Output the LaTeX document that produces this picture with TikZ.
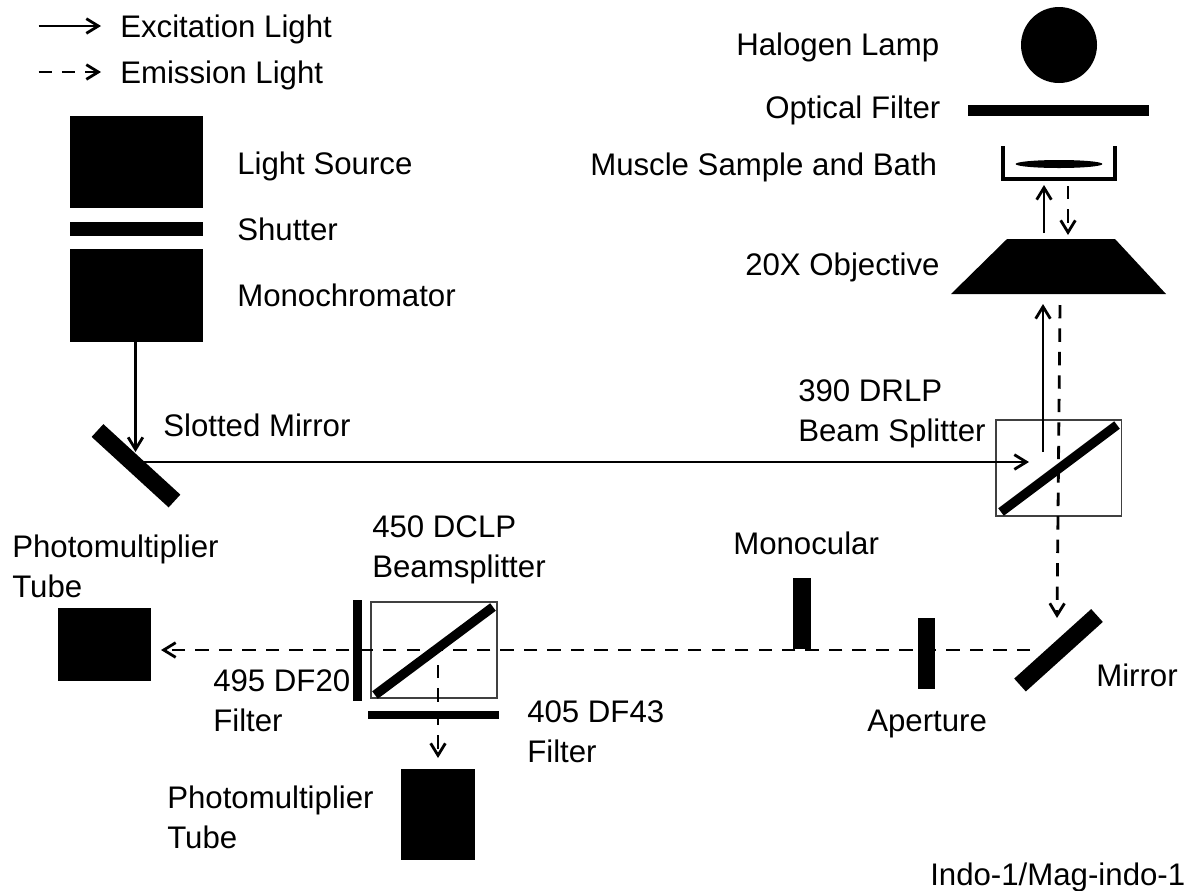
\documentclass[tikz,border=0pt]{standalone}
\usepackage{fontspec}
\setmainfont{Liberation Sans}
\usetikzlibrary{arrows.meta,shapes.geometric}

\begin{document}
\begin{tikzpicture}[
  x=0.75pt, y=-0.75pt,
  excite/.style={-{Straight Barb[length=9pt,width=11pt]}, line width=2.1pt},
  emit/.style={-{Straight Barb[length=9pt,width=11pt]}, line width=2.1pt,
               dash pattern=on 10pt off 7.6pt},
  block/.style={fill=black, inner sep=0pt, outer sep=0pt},
  cube/.style={draw=black!75, line width=1pt, inner sep=0pt, outer sep=0pt},
  plate/.style={line width=7pt},
  mirror/.style={line width=13pt},
  tag/.style={anchor=base west, inner sep=0pt, align=left,
              font=\fontsize{23.4}{30}\selectfont}]
\useasboundingbox (0,0) rectangle (1195,890);

% ---- black parts of the two light paths ---------------------------------
\node[block, minimum width=100pt, minimum height=69pt] (source) at (136.5,162) {};
\node[block, minimum width=100pt, minimum height=10.5pt] (shutter) at (136.5,229) {};
\node[block, minimum width=100pt, minimum height=70pt] (mono) at (136.5,295.5) {};
\node[block, circle, minimum size=57pt] (lamp) at (1059,45) {};
\node[block, minimum width=136pt, minimum height=8pt] (optfilter) at (1058.5,110.5) {};
\node[block, ellipse, minimum width=65pt, minimum height=6pt] (sample) at (1059,164) {};
\node[block, minimum width=13pt, minimum height=53pt] (aperture) at (926.5,653.5) {};
\node[block, minimum width=13.5pt, minimum height=53pt] (monocular) at (802,613.5) {};
\node[block, minimum width=70pt, minimum height=55pt] (pmtleft) at (104.5,644.5) {};
\node[block, minimum width=56pt, minimum height=68pt] (pmtlow) at (438,814.5) {};
\node[block, minimum width=7pt, minimum height=76pt] (dffilter) at (357.5,650.5) {};
\node[block, minimum width=98pt, minimum height=6.5pt] (dfforty) at (433.5,715) {};
\node[cube, minimum width=94pt, minimum height=72pt] (splitter) at (1058.5,468) {};
\node[cube, minimum width=94.5pt, minimum height=72pt] (dclp) at (434,650) {};

% ---- objective and bath -------------------------------------------------
\fill (1007,239)--(1115,239)--(1166,294)--(951,294)--cycle;
\draw[line width=2.5pt] (1003,146)--(1003,179)--(1115,179)--(1115,146);

% ---- ends of the tilted plates ------------------------------------------
\coordinate (slot1) at (97.5,430.5);
\coordinate (slot2) at (174.5,501);
\coordinate (fold1) at (1020,685);
\coordinate (fold2) at (1097,615.5);
\coordinate (split1) at (1001,512);
\coordinate (split2) at (1117,425);
\coordinate (dclp1) at (375,695);
\coordinate (dclp2) at (493,607);
\draw[mirror] (slot1)--(slot2) (fold1)--(fold2);
\draw[plate] (split1)--(split2) (dclp1)--(dclp2);

% ---- where the beams start and stop -------------------------------------
\coordinate (slotin) at (135.5,452);
\coordinate (slotout) at (136,462);
\coordinate (splitin) at (1029,462);
\coordinate (upstart) at (1043,452);
\coordinate (upend) at (1043,304);
\coordinate (bathup) at (1044,233);
\coordinate (bathtop) at (1044,185);
\coordinate (bathdown) at (1068,186);
\coordinate (objtop) at (1068,235);
\coordinate (downstart) at (1060,305);
\coordinate (foldin) at (1057,618);
\coordinate (foldout) at (1030,650);
\coordinate (pmtin) at (161,650);
\coordinate (lowstart) at (438,665);
\coordinate (lowend) at (438,758);

\draw[excite] (mono.south -| slotin)--(slotin);
\draw[excite] (slotout)--(splitin);
\draw[excite] (upstart)--(upend);
\draw[excite] (bathup)--(bathtop);
\draw[emit] (bathdown)--(objtop);
\draw[emit] (downstart)--(foldin);
\draw[emit] (foldout)--(pmtin);
\draw[emit] (lowstart)--(lowend);

% ---- legend -------------------------------------------------------------
\coordinate (keya) at (38.5,26);
\coordinate (keyb) at (101,26);
\coordinate (keyc) at (38.5,72);
\coordinate (keyd) at (101,72);
\draw[excite] (keya)--(keyb);
\draw[emit] (keyc)--(keyd);

% ---- labels -------------------------------------------------------------
\node[tag] (tagexcite) at (120,37) {Excitation Light};
\node[tag] (tagemit) at (120,83) {Emission Light};
\node[tag] (taglamp) at (736,55) {Halogen Lamp};
\node[tag] (tagoptical) at (765,118) {Optical Filter};
\node[tag] (tagbath) at (590,175) {Muscle Sample and Bath};
\node[tag] (tagobj) at (745,275) {20X Objective};
\node[tag] (tagsource) at (237,174) {Light Source};
\node[tag] (tagshutter) at (237,240) {Shutter};
\node[tag] (tagmono) at (237,306) {Monochromator};
\node[tag] (tagslot) at (163,436) {Slotted Mirror};
\node[tag] (tagsplit) at (798,441) {390 DRLP\\Beam Splitter};
\node[tag] (tagmonoc) at (733,554) {Monocular};
\node[tag] (tagdclp) at (372,577) {450 DCLP\\Beamsplitter};
\node[tag] (tagpmtl) at (12,597) {Photomultiplier\\Tube};
\node[tag] (tagdf) at (213,731) {495 DF20\\Filter};
\node[tag] (tagfold) at (1096,686) {Mirror};
\node[tag] (tagap) at (867,731) {Aperture};
\node[tag] (tagfor) at (527,762) {405 DF43\\Filter};
\node[tag] (tagpmtb) at (167,848) {Photomultiplier\\Tube};
\node[tag] (tagindo) at (930,885) {Indo-1/Mag-indo-1};
\end{tikzpicture}
\end{document}
